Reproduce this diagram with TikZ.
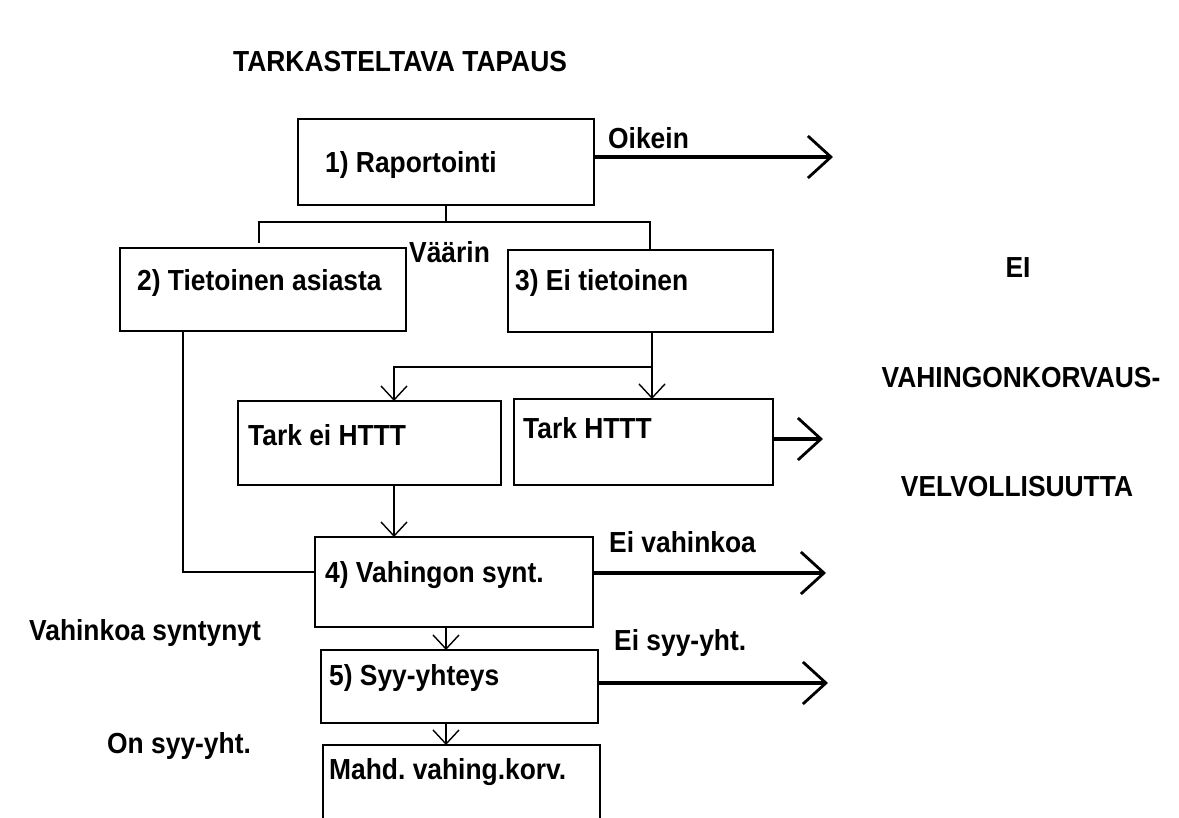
\documentclass[tikz,border=0pt]{standalone}
\usepackage{fontspec}
\setmainfont{Liberation Sans}
\newfontfamily\labfont{Liberation Sans}[FakeStretch=0.91]
\usetikzlibrary{arrows.meta}
\begin{document}
\frenchspacing
\begin{tikzpicture}[x=1pt,y=-1pt,
  box/.style={draw,line width=1.4pt,inner sep=0pt,outer sep=0pt},
  txt/.style={inner sep=0pt,anchor=west,font=\labfont\fontsize{29}{34}\selectfont\bfseries},
  ctxt/.style={inner sep=0pt,anchor=center,font=\labfont\fontsize{29}{34}\selectfont\bfseries},
  conn/.style={line width=1.4pt},
  arr/.style={line width=1.4pt,-{Straight Barb[length=14pt,width=26pt]}},
  big/.style={line width=3.8pt,-{Straight Barb[length=23pt,width=42pt,line width=2.8pt]}}]
\useasboundingbox[fill=white] (0,0) rectangle (1179,818);
% boxes
\node[box,minimum width=296pt,minimum height=86pt] (b1) at (446,162) {};
\node[box,minimum width=286pt,minimum height=83pt] (b2) at (263,289.5) {};
\node[box,minimum width=265pt,minimum height=82pt] (b3) at (640.5,291) {};
\node[box,minimum width=263pt,minimum height=84pt] (b4t) at (369.5,443) {};
\node[box,minimum width=259pt,minimum height=86pt] (b5t) at (643.5,442) {};
\node[box,minimum width=278pt,minimum height=90pt] (b4) at (454,582) {};
\node[box,minimum width=277pt,minimum height=73pt] (b5) at (459.5,686.5) {};
\node[box,minimum width=277pt,minimum height=95pt] (b6) at (461.5,792.5) {};
% box texts
\node[txt] (t1) at (325,165) {1) Raportointi};
\node[txt] (t2) at (137,283) {2) Tietoinen asiasta};
\node[txt] (t3) at (515,283) {3) Ei tietoinen};
\node[txt] (t4t) at (248,435) {Tark ei HTTT};
\node[txt] (t5t) at (523,428) {Tark HTTT};
\node[txt] (t4) at (325,575) {4) Vahingon synt.};
\node[txt] (t5) at (329,678) {5) Syy-yhteys};
\node[txt] (t6) at (329,772) {Mahd. vahing.korv.};
% other texts
\node[txt] (title) at (233,62) {TARKASTELTAVA TAPAUS};
\node[txt] (oik) at (608,138) {Oikein};
\node[txt] (vaa) at (409,252) {Väärin};
\node[txt] (eiv) at (609,542) {Ei vahinkoa};
\node[txt] (eis) at (614,643) {Ei syy-yht.};
\node[txt] (vs) at (29,633) {Vahinkoa syntynyt};
\node[txt] (on) at (107,746) {On syy-yht.};
\node[ctxt] (r1) at (1018,268) {EI};
\node[ctxt] (r2) at (1021,378) {VAHINGONKORVAUS-};
\node[ctxt] (r3) at (1017,487) {VELVOLLISUUTTA};
% tree from box 1
\coordinate (jL) at (259,243);
\coordinate (jR) at (650,222);
\draw[conn] (b1.south) -- (b1.south |- jR);
\draw[conn] (jL) |- (jR) -- (jR |- b3.north);
% left line from box 2 to box 4
\coordinate (k) at (183,572);
\draw[conn] (b2.south -| k) -- (k) -- (k -| b4.west);
% from box 3 to Tark boxes
\coordinate (m) at (652,367);
\coordinate (m2) at (394,367);
\draw[conn] (b3.south -| m) -- (m);
\draw[arr] (m) -- (m2) -- (m2 |- b4t.north);
\draw[arr] (m) -- (m |- b5t.north);
\draw[arr] (m2 |- b4t.south) -- (m2 |- b4.north);
\coordinate (n) at (446,0);
\draw[arr] (n |- b4.south) -- (n |- b5.north);
\draw[arr] (n |- b5.south) -- (n |- b6.north);
% thick arrows
\coordinate (e1) at (833,157);
\coordinate (e2) at (823,439);
\coordinate (e3) at (826,573);
\coordinate (e4) at (828,683);
\draw[big] (e1 -| b1.east) -- (e1);
\draw[big] (e2 -| b5t.east) -- (e2);
\draw[big] (e3 -| b4.east) -- (e3);
\draw[big] (e4 -| b5.east) -- (e4);
\end{tikzpicture}
\end{document}
